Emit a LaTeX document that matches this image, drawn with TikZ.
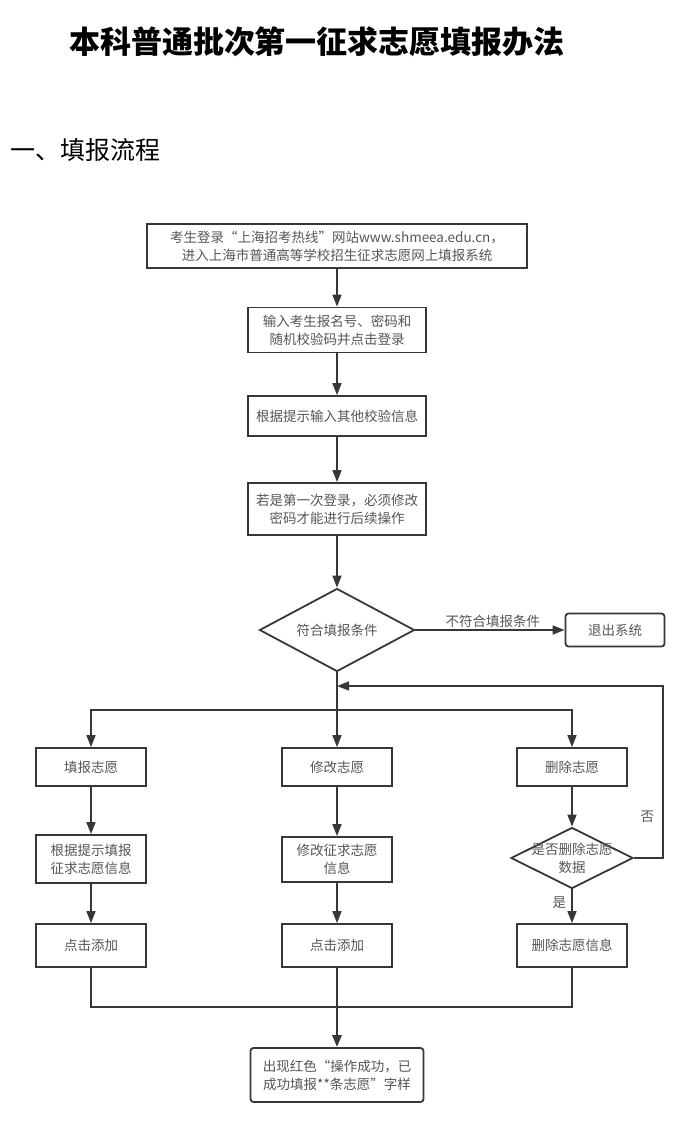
\documentclass[tikz,border=0pt]{standalone}
\usepackage{fontspec}
\setmainfont{Noto Sans CJK SC}
\usepackage{tikz}
\usetikzlibrary{shapes.geometric, arrows.meta, positioning, calc}
\definecolor{linegray}{RGB}{55,55,55}
\definecolor{textgray}{RGB}{85,85,85}
\newcommand{\flowfont}{\fontsize{13.5}{18}\selectfont}

\begin{document}
\begin{tikzpicture}[
	x=1pt, y=-1pt,
	stepbox/.style={rectangle, draw=linegray, line width=1.8pt, text=textgray, font=\flowfont, align=center, inner sep=0pt, minimum width=110, minimum height=38},
	endbox/.style={stepbox, rounded corners=3pt},
	decision/.style={diamond, draw=linegray, line width=1.8pt, inner sep=0pt},
	lbl/.style={text=textgray, font=\flowfont, align=center, inner sep=2pt},
	arrow/.style={-{Triangle[length=12pt, width=9pt]}, line width=1.6pt, draw=linegray},
	link/.style={line width=1.6pt, draw=linegray}
]
\useasboundingbox (0,0) rectangle (680,1128);

% Title and heading
\node[font=\bfseries\fontsize{31}{36}\selectfont] (Title) at (317,42) {本科普通批次第一征求志愿填报办法};
\node[font=\fontsize{25}{30}\selectfont, anchor=west, inner sep=0pt] (Heading) at (10,150) {一、填报流程};

% Login steps
\node[stepbox, minimum width=380, minimum height=44] (Login) at (337,246) {考生登录“上海招考热线”网站www.shmeea.edu.cn，\\进入上海市普通高等学校招生征求志愿网上填报系统};
\node[stepbox, minimum width=178, minimum height=45] (Account) at (337,330) {输入考生报名号、密码和\\随机校验码并点击登录};
\node[stepbox, minimum width=178, minimum height=40] (Verify) at (337,416) {根据提示输入其他校验信息};
\node[stepbox, minimum width=178, minimum height=52] (Passwd) at (337,509) {若是第一次登录，必须修改\\密码才能进行后续操作};
\draw[arrow] (Login) -- (Account);
\draw[arrow] (Account) -- (Verify);
\draw[arrow] (Verify) -- (Passwd);

% Condition check
\node[decision, minimum width=155, minimum height=83, label={[lbl]center:符合填报条件}] (Check) at (337,630) {};
\node[endbox, minimum width=99, minimum height=33] (Exit) at (615,630) {退出系统};
\draw[arrow] (Passwd) -- (Check);
\draw[arrow] (Check.east) -- node[lbl, above, pos=0.52] {不符合填报条件} (Exit.west);

% Three branches
\node[stepbox] (Fill) at (91,767) {填报志愿};
\node[stepbox] (Modify) at (337,767) {修改志愿};
\node[stepbox] (Delete) at (572,767) {删除志愿};

\node[stepbox, minimum height=48] (FillInfo) at (91,859) {根据提示填报\\征求志愿信息};
\node[stepbox, minimum height=45] (ModInfo) at (337,859.5) {修改征求志愿\\信息};
\node[decision, minimum width=122, minimum height=61, label={[lbl]center:是否删除志愿\\数据}] (Ask) at (572,858) {};

\node[stepbox, minimum height=43] (Add1) at (91,945.5) {点击添加};
\node[stepbox, minimum height=43] (Add2) at (337,945.5) {点击添加};
\node[stepbox, minimum height=43] (DelInfo) at (572,945.5) {删除志愿信息};

\node[endbox, minimum width=173, minimum height=54] (Done) at (337,1075) {出现红色“操作成功，已\\成功填报**条志愿”字样};

\coordinate (Split) at (337,710);
\coordinate (Loop) at (663,686);
\coordinate (Merge) at (337,1007);

\draw[link] (Check.south) -- (Split);
\draw[arrow] (Split) -| (Fill);
\draw[arrow] (Split) -- (Modify);
\draw[arrow] (Split) -| (Delete);

\draw[arrow] (Fill) -- (FillInfo);
\draw[arrow] (FillInfo) -- (Add1);
\draw[arrow] (Modify) -- (ModInfo);
\draw[arrow] (ModInfo) -- (Add2);
\draw[arrow] (Delete) -- (Ask);
\draw[arrow] (Ask) -- node[lbl, left=3pt, pos=0.4] {是} (DelInfo);
\draw[arrow] (Ask.east) -| node[lbl, left=6pt, pos=0.62] {否} (Loop) -- (Check.south |- Loop);

% Merge into result
\draw[link] (Add1) |- (Merge) -| (DelInfo);
\draw[arrow, line width=2.8pt] (Add2) -- (Done);
\end{tikzpicture}
\end{document}
